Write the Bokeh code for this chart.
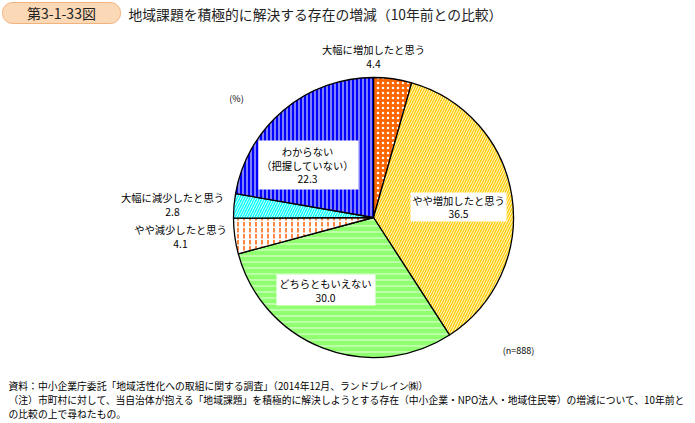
from bokeh.plotting import figure
from bokeh.models import Range1d
from bokeh.core.properties import value
from bokeh.embed import file_html
from bokeh.resources import INLINE
import numpy as np

# ---- data ----
categories = ["大幅に増加したと思う", "やや増加したと思う", "どちらともいえない",
              "やや減少したと思う", "大幅に減少したと思う", "わからない（把握していない）"]
values = [4.4, 36.5, 30.0, 4.1, 2.8, 22.3]
value_labels = ["4.4", "36.5", "30.0", "4.1", "2.8", "22.3"]

# ---- styles ----
fill_colors = ["#FF6600", "#FFCC00", "#90FF70", "#FFFFFF", "#00FFFF", "#0000FF"]
hatch_patterns = ["dot", "right_diagonal_line", "horizontal_line", "vertical_dash",
                  "right_diagonal_line", "vertical_line"]
hatch_colors = ["#FFFFFF", "#FFFFFF", "#FFFFFF", "#FF8844", "#FFFFFF", "#FFFFFF"]
hatch_scales = [5, 5, 6, 6, 5, 4]
hatch_weights = [1.2, 0.9, 0.8, 2, 0.9, 1.0]

W, H = 695, 423
FONT = value("Noto Sans CJK JP")


def Y(py):
    return H - py


p = figure(width=W, height=H, x_range=Range1d(0, W), y_range=Range1d(0, H),
           output_backend="svg", toolbar_location=None, min_border=0)
p.axis.visible = False
p.grid.visible = False
p.outline_line_color = None
p.background_fill_color = "white"
p.border_fill_color = "white"

# ---- pie ----
cx, cy, r = 373, 217, 140
vals = np.array(values)
frac = vals / vals.sum()
cum = np.concatenate([[0], np.cumsum(frac)])
starts = np.pi / 2 - 2 * np.pi * cum[:-1]
ends = np.pi / 2 - 2 * np.pi * cum[1:]
for i in range(len(values)):
    p.wedge(x=cx, y=Y(cy), radius=r, start_angle=starts[i], end_angle=ends[i],
            direction="clock", fill_color=fill_colors[i],
            hatch_pattern=hatch_patterns[i], hatch_color=hatch_colors[i],
            hatch_scale=hatch_scales[i], hatch_weight=hatch_weights[i],
            line_color="black", line_width=1.3)

# ---- header ----
p.quad(left=2, right=120, top=Y(2), bottom=Y(23), fill_color="#FCD9B6",
       line_color="#F2B27C", line_width=1, border_radius=10)
p.text(x=[61], y=[Y(12.5)], text=["第3-1-33図"], text_font=FONT, text_font_size="14px",
       text_align="center", text_baseline="middle", text_color="#222222")
p.text(x=[128], y=[Y(13)], text=["地域課題を積極的に解決する存在の増減（10年前との比較）"],
       text_font=FONT, text_font_size="13.8px", text_align="left",
       text_baseline="middle", text_color="#222222")

# ---- label boxes ----
boxes = [(410, 506, 192, 221), (276, 375, 274, 305), (258, 358, 140, 189)]
for l, rr, t, b in boxes:
    p.quad(left=l, right=rr, top=Y(t), bottom=Y(b), fill_color="white", line_color=None)


def lab(x, y, s, size="10.3px", align="center"):
    p.text(x=[x], y=[Y(y)], text=[s], text_font=FONT, text_font_size=size,
           text_align=align, text_baseline="middle", text_color="black")


lab(373, 49, categories[0]); lab(373, 63, value_labels[0])
lab(458, 200, categories[1]); lab(458, 213, value_labels[1])
lab(325, 283, categories[2]); lab(325, 297, value_labels[2])
lab(180, 229, categories[3]); lab(180, 243, value_labels[3])
lab(172, 197, categories[4]); lab(172, 211, value_labels[4])
lab(307, 151, "わからない"); lab(307, 165, "（把握していない）"); lab(307, 178, value_labels[5])

lab(236, 98, "(%)", size="9px")
lab(518, 350, "(n=888)", size="9px")

# ---- footer ----
foot = ["資料：中小企業庁委託「地域活性化への取組に関する調査」（2014年12月、ランドブレイン㈱）",
        "（注）市町村に対して、当自治体が抱える「地域課題」を積極的に解決しようとする存在（中小企業・NPO法人・地域住民等）の増減について、10年前と",
        "の比較の上で尋ねたもの。"]
for i, s in enumerate(foot):
    p.text(x=[8], y=[Y(385 + 14 * i)], text=[s], text_font=FONT, text_font_size="9.8px",
           text_align="left", text_baseline="middle", text_color="black")

open("out.html", "w").write(file_html(p, INLINE))
